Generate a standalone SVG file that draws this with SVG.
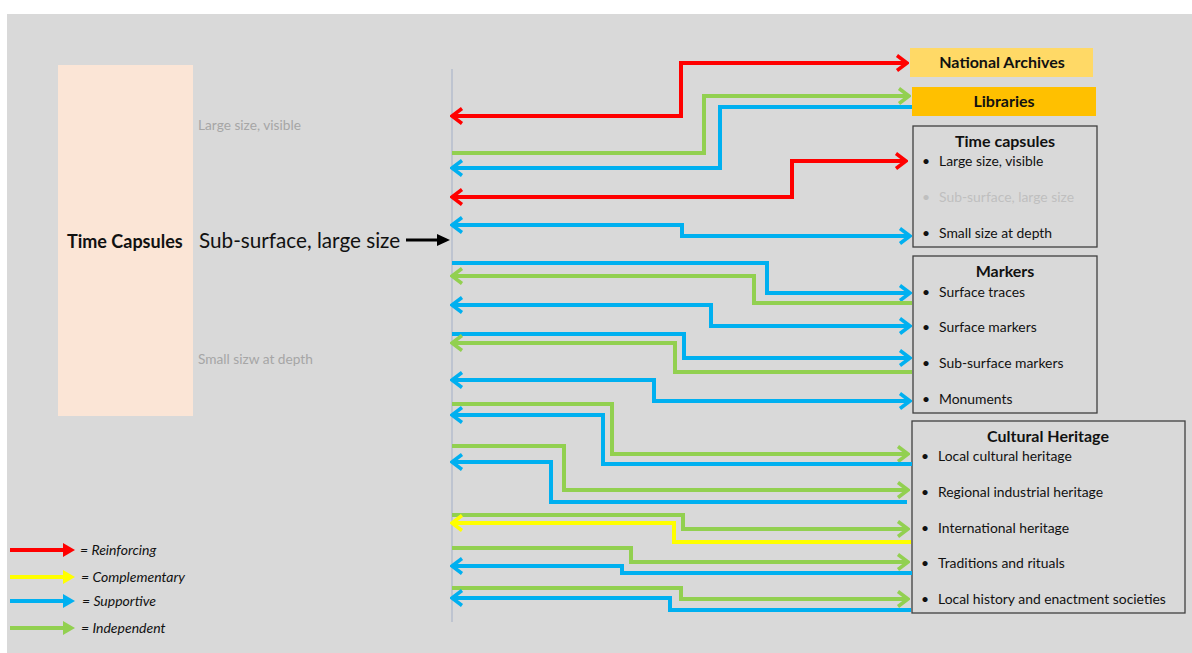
<svg xmlns="http://www.w3.org/2000/svg" width="1192" height="653" viewBox="0 0 1192 653">
<style>
text{font-family:Lato,"Liberation Sans",sans-serif;fill:#111111}
.t{font-size:13.9px}
.b{font-weight:bold;font-size:16px}
.g{fill:#a6a6a6;font-size:13.7px}
.lg{font-style:italic;font-size:14px}
.c{fill:none;stroke-width:4}
.red{stroke:#ff0000}.grn{stroke:#92d050}.blu{stroke:#00b0f0}.yel{stroke:#ffff00}
.box{fill:none;stroke:#404040;stroke-width:1.3}
</style>
<defs>
<marker id="mr" viewBox="0 0 14 18" markerUnits="userSpaceOnUse" markerWidth="14" markerHeight="18" refX="12" refY="9" orient="auto-start-reverse"><path d="M2,1.5 L12,9 L2,16.5" fill="none" stroke="#ff0000" stroke-width="3.5"/></marker>
<marker id="mg" viewBox="0 0 14 18" markerUnits="userSpaceOnUse" markerWidth="14" markerHeight="18" refX="12" refY="9" orient="auto-start-reverse"><path d="M2,1.5 L12,9 L2,16.5" fill="none" stroke="#92d050" stroke-width="3.5"/></marker>
<marker id="mb" viewBox="0 0 14 18" markerUnits="userSpaceOnUse" markerWidth="14" markerHeight="18" refX="12" refY="9" orient="auto-start-reverse"><path d="M2,1.5 L12,9 L2,16.5" fill="none" stroke="#00b0f0" stroke-width="3.5"/></marker>
<marker id="my" viewBox="0 0 14 18" markerUnits="userSpaceOnUse" markerWidth="14" markerHeight="18" refX="12" refY="9" orient="auto-start-reverse"><path d="M2,1.5 L12,9 L2,16.5" fill="none" stroke="#ffff00" stroke-width="3.5"/></marker>
</defs>
<rect x="0" y="0" width="1192" height="653" fill="#ffffff"/>
<rect x="7" y="14" width="1185" height="639" fill="#d9d9d9"/>

<g id="time-capsules-source">
<rect x="58" y="65" width="135" height="351" fill="#fbe5d6"/>
<text class="b" x="67" y="248" style="font-size:18px">Time Capsules</text>
</g>
<g id="labels-left">
<text class="g" x="198" y="130">Large size, visible</text>
<text x="199" y="248" style="font-size:20.7px">Sub-surface, large size</text>
<text class="g" x="198" y="364">Small sizw at depth</text>
</g>
<g id="focus-arrow">
<line x1="406" y1="240" x2="439" y2="240" stroke="#000" stroke-width="3"/>
<polygon points="437,234 450,240 437,246" fill="#000"/>
</g>
<g id="axis">
<line x1="452" y1="69" x2="452" y2="622" stroke="#b4bccc" stroke-width="1.5"/>
</g>

<g id="national-archives">
<rect x="910" y="48" width="183" height="29" fill="#ffd966"/>
<text class="b" x="1002" y="68" text-anchor="middle">National Archives</text>
</g>
<g id="libraries">
<rect x="912" y="87" width="184" height="29" fill="#ffc000"/>
<text class="b" x="1004" y="107" text-anchor="middle">Libraries</text>
</g>
<g id="time-capsules-box">
<rect class="box" x="913" y="126" width="184" height="121"/>
<text class="b" x="1005" y="147" text-anchor="middle">Time capsules</text>
<text class="t" x="922" y="166">•</text><text class="t" x="939" y="166">Large size, visible</text>
<text class="t" x="922" y="202" style="fill:#bfbfbf">•</text><text class="t" x="939" y="202" style="fill:#bfbfbf">Sub-surface, large size</text>
<text class="t" x="922" y="238">•</text><text class="t" x="939" y="238">Small size at depth</text>
</g>
<g id="markers-box">
<rect class="box" x="913" y="256" width="184" height="157"/>
<text class="b" x="1005" y="277" text-anchor="middle">Markers</text>
<text class="t" x="922" y="297">•</text><text class="t" x="939" y="297">Surface traces</text>
<text class="t" x="922" y="332">•</text><text class="t" x="939" y="332">Surface markers</text>
<text class="t" x="922" y="368">•</text><text class="t" x="939" y="368">Sub-surface markers</text>
<text class="t" x="922" y="404">•</text><text class="t" x="939" y="404">Monuments</text>
</g>
<g id="cultural-heritage-box">
<rect class="box" x="912" y="421" width="273" height="192"/>
<text class="b" x="1048" y="442" text-anchor="middle">Cultural Heritage</text>
<text class="t" x="921" y="461">•</text><text class="t" x="938" y="461">Local cultural heritage</text>
<text class="t" x="921" y="497">•</text><text class="t" x="938" y="497">Regional industrial heritage</text>
<text class="t" x="921" y="533">•</text><text class="t" x="938" y="533">International heritage</text>
<text class="t" x="921" y="568">•</text><text class="t" x="938" y="568">Traditions and rituals</text>
<text class="t" x="921" y="604">•</text><text class="t" x="938" y="604">Local history and enactment societies</text>
</g>

<g id="connectors">
<path class="c red" d="M452,116 H681 V63 H907" marker-start="url(#mr)" marker-end="url(#mr)"/>
<path class="c grn" d="M452,153 H704 V96 H909" marker-end="url(#mg)"/>
<path class="c blu" d="M452,168 H720 V107 H912" marker-start="url(#mb)"/>
<path class="c red" d="M452,197 H792 V161 H906" marker-start="url(#mr)" marker-end="url(#mr)"/>
<path class="c blu" d="M452,225 H682 V236 H910" marker-start="url(#mb)" marker-end="url(#mb)"/>
<path class="c blu" d="M452,263 H767 V293 H910" marker-end="url(#mb)"/>
<path class="c grn" d="M452,276 H754 V303 H912" marker-start="url(#mg)"/>
<path class="c blu" d="M452,305 H711 V326 H910" marker-start="url(#mb)" marker-end="url(#mb)"/>
<path class="c blu" d="M452,334 H684 V358 H910" marker-end="url(#mb)"/>
<path class="c grn" d="M452,343 H675 V372 H912" marker-start="url(#mg)"/>
<path class="c blu" d="M452,380 H654 V401 H910" marker-start="url(#mb)" marker-end="url(#mb)"/>
<path class="c grn" d="M452,404 H612 V454 H908" marker-end="url(#mg)"/>
<path class="c blu" d="M452,415 H603 V464 H912" marker-start="url(#mb)"/>
<path class="c grn" d="M452,446 H564 V490 H908" marker-end="url(#mg)"/>
<path class="c blu" d="M452,462 H551 V502 H907" marker-start="url(#mb)"/>
<path class="c grn" d="M452,515 H683 V529 H908" marker-end="url(#mg)"/>
<path class="c yel" d="M452,523 H674 V542 H911" marker-start="url(#my)"/>
<path class="c grn" d="M452,548 H631 V562 H908" marker-end="url(#mg)"/>
<path class="c blu" d="M452,566 H622 V573 H912" marker-start="url(#mb)"/>
<path class="c grn" d="M452,588 H681 V599 H908" marker-end="url(#mg)"/>
<path class="c blu" d="M452,598 H670 V610 H911" marker-start="url(#mb)"/>
</g>

<g id="legend">
<line x1="10" y1="550" x2="64" y2="550" stroke="#ff0000" stroke-width="4"/><polygon points="63,543 75,550 63,557" fill="#ff0000"/>
<text class="lg" x="80" y="555">= Reinforcing</text>
<line x1="10" y1="577" x2="64" y2="577" stroke="#ffff00" stroke-width="4"/><polygon points="63,570 75,577 63,584" fill="#ffff00"/>
<text class="lg" x="81" y="582">= Complementary</text>
<line x1="10" y1="601" x2="64" y2="601" stroke="#00b0f0" stroke-width="4"/><polygon points="63,594 75,601 63,608" fill="#00b0f0"/>
<text class="lg" x="82" y="606">= Supportive</text>
<line x1="10" y1="628" x2="64" y2="628" stroke="#92d050" stroke-width="4"/><polygon points="63,621 75,628 63,635" fill="#92d050"/>
<text class="lg" x="81" y="633">= Independent</text>
</g>
</svg>
